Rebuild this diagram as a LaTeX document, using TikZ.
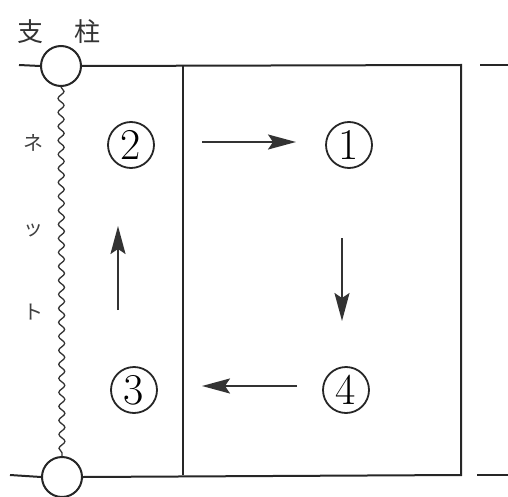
\documentclass[tikz,border=0pt]{standalone}
\usepackage{fontspec}
\newfontfamily\cjk{Noto Sans CJK JP}
\usetikzlibrary{arrows.meta,decorations.pathmorphing}
\begin{document}
\begin{tikzpicture}[x=1pt,y=-1pt,
  frame/.style={line width=2pt,draw=black!85},
  post/.style={circle,draw=black!85,line width=2pt,minimum size=40pt,inner sep=0pt,fill=white},
  num/.style={circle,draw=black!85,line width=1.8pt,minimum size=46pt,inner sep=0pt,font=\fontsize{44}{46}\selectfont},
  flow/.style={line width=2pt,draw=black!80,-{Stealth[length=28pt,width=15pt,inset=5pt]}},
  net/.style={line width=1.3pt,draw=black!80,decorate,decoration={snake,segment length=14pt,amplitude=3pt}},
  jp/.style={font=\cjk\fontsize{26}{28}\selectfont,text=black!80},
  jps/.style={font=\cjk\fontsize{20}{22}\selectfont,text=black!75}]
\useasboundingbox (0,0) rectangle (508,497);
% coordinates of frame
\coordinate (tl) at (19,65);
\coordinate (tr) at (461,65);
\coordinate (br) at (461,475);
\coordinate (bl) at (10,475);
\coordinate (dt) at (183,65);
\coordinate (db) at (183,475);
\coordinate (ot1) at (480,65);
\coordinate (ot2) at (508,65);
\coordinate (ob1) at (477,475);
\coordinate (ob2) at (508,475);
% posts
\node[post] (pt) at (61,66) {};
\node[post] (pb) at (62,477) {};
% net
\draw[net] (pt.south) -- (pb.north);
% frame
\draw[frame] (tl) -- (pt.west);
\draw[frame] (pt.east) -- (tr) -- (br) -- (pb.east);
\draw[frame] (pb.west) -- (bl);
\draw[frame] (dt) -- (db);
\draw[frame] (ot1) -- (ot2);
\draw[frame] (ob1) -- (ob2);
% labels
\node[jp] (l1) at (30,32) {支};
\node[jp] (l2) at (87,32) {柱};
\node[jps] (n1) at (33,143) {ネ};
\node[jps] (n2) at (33,230) {ッ};
\node[jps] (n3) at (33,312) {ト};
% circled numbers
\node[num] (c1) at (349,145) {1};
\node[num] (c2) at (131,145) {2};
\node[num] (c3) at (134,390) {3};
\node[num] (c4) at (346,390) {4};
% arrows
\coordinate (a1s) at (202,142);
\coordinate (a1e) at (296,142);
\coordinate (a2s) at (342,238);
\coordinate (a2e) at (342,321);
\coordinate (a3s) at (297,386);
\coordinate (a3e) at (202,386);
\coordinate (a4s) at (118,310);
\coordinate (a4e) at (118,226);
\draw[flow] (a1s) -- (a1e);
\draw[flow] (a2s) -- (a2e);
\draw[flow] (a3s) -- (a3e);
\draw[flow] (a4s) -- (a4e);
\end{tikzpicture}
\end{document}
